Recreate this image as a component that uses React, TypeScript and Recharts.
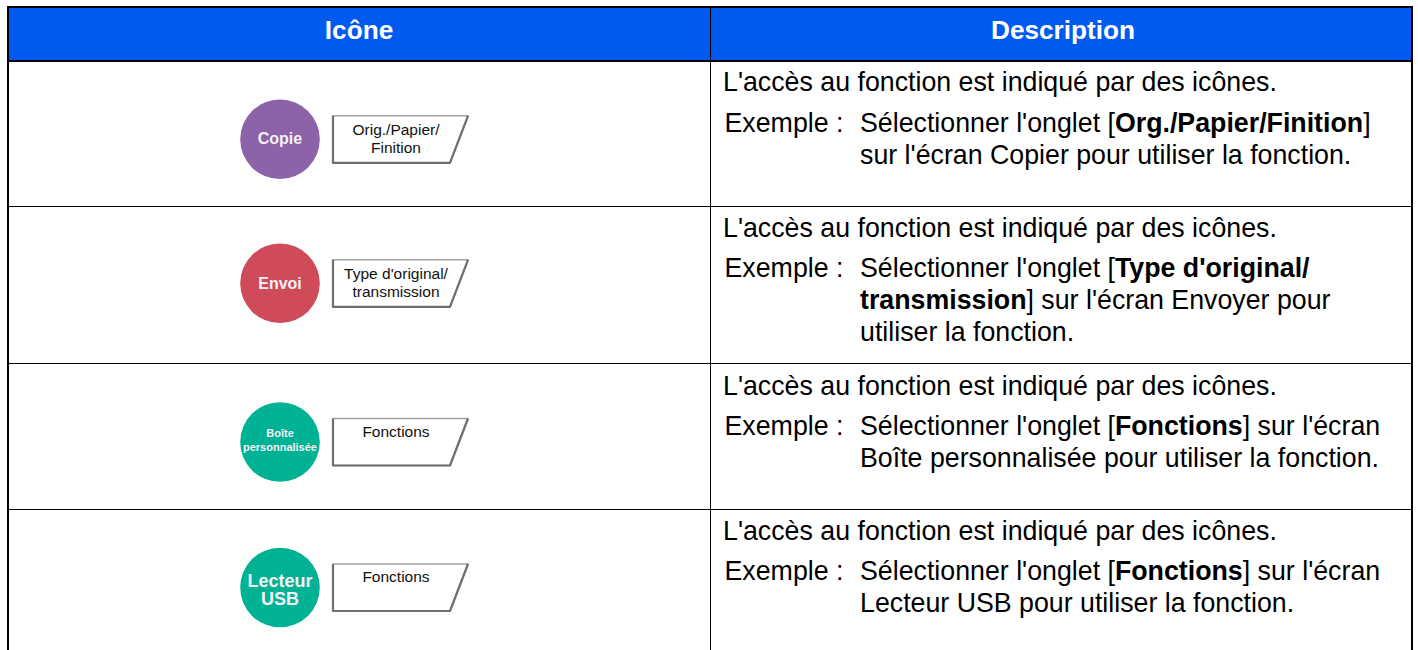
import React from "react";
import { ComposedChart, XAxis, YAxis, Scatter, ReferenceArea, ReferenceLine } from "recharts";

const WIDTH = 1418;
const HEIGHT = 650;
const FONT = "'Liberation Sans', Arial, sans-serif";

const headers = ["Icône", "Description"];
const rowRules = [206.5, 363.5, 509.5];
const circleColors = ["#8C62A8", "#CF4B5A", "#00B294", "#00B294"];
const circleLabels = [["Copie"], ["Envoi"], ["Boîte", "personnalisée"], ["Lecteur", "USB"]];
const circleFontSizes = [16, 16, 11, 18];
const circleShifts = [-1, 0, -2, 2];
const tabLabels = [["Orig./Papier/", "Finition"], ["Type d'original/", "transmission"], ["Fonctions"], ["Fonctions"]];
const iconCentres = [139.3, 283.3, 442, 587.5];
const firstLines = [82, 228, 386, 531];
const exampleLines = [123, 268, 426, 571];

const intro = "L'accès au fonction est indiqué par des icônes.";
const exampleLabel = "Exemple :";
const descriptions: [string, boolean][][][] = [
  [[["Sélectionner l'onglet [", false], ["Org./Papier/Finition", true], ["]", false]], [["sur l'écran Copier pour utiliser la fonction.", false]]],
  [[["Sélectionner l'onglet [", false], ["Type d'original/", true]], [["transmission", true], ["] sur l'écran Envoyer pour", false]], [["utiliser la fonction.", false]]],
  [[["Sélectionner l'onglet [", false], ["Fonctions", true], ["] sur l'écran", false]], [["Boîte personnalisée pour utiliser la fonction.", false]]],
  [[["Sélectionner l'onglet [", false], ["Fonctions", true], ["] sur l'écran", false]], [["Lecteur USB pour utiliser la fonction.", false]]],
];

const iconData = iconCentres.map((y, i) => ({
  x: 280,
  y,
  color: circleColors[i],
  circle: circleLabels[i],
  fontSize: circleFontSizes[i],
  shift: circleShifts[i],
  tab: tabLabels[i],
}));

const headerData = headers.map((label, i) => ({ x: i === 0 ? 359 : 1063, y: 30, label }));

const textData: { x: number; y: number; runs: [string, boolean][] }[] = [];
descriptions.forEach((lines, i) => {
  textData.push({ x: 723, y: firstLines[i], runs: [[intro, false]] });
  textData.push({ x: 724.5, y: exampleLines[i], runs: [[exampleLabel, false]] });
  lines.forEach((runs, j) => textData.push({ x: 860, y: exampleLines[i] + j * 32, runs }));
});

const IconShape = (props: any) => {
  const { cx, cy, payload } = props;
  const top = cy - 23.5;
  const bottom = cy + 23.5;
  const lines: string[] = payload.tab;
  const circleLines: string[] = payload.circle;
  const lh = payload.fontSize * (circleLines.length > 1 && payload.fontSize < 12 ? 1.25 : 0.97);
  const lineY = (i: number) => (lines.length > 1 ? top + 14 + i * 18 : top + 13);
  return (
    <g>
      <circle cx={cx} cy={cy} r={39.8} fill={payload.color} />
      {circleLines.map((t, i) => (
        <text key={i} x={cx} y={cy + payload.shift + (i - (circleLines.length - 1) / 2) * lh} dy="0.35em" textAnchor="middle"
          fontFamily={FONT} fontWeight="bold" fontSize={payload.fontSize} fill="#F4F0F6">{t}</text>
      ))}
      <path d={`M${cx + 53},${top} H${cx + 188} L${cx + 170},${bottom} H${cx + 53} Z`} fill="#fff" stroke="#A0A2A4" strokeWidth={1.6} strokeLinejoin="round" />
      <path d={`M${cx + 53},${top} V${bottom} H${cx + 170} L${cx + 188},${top}`} fill="none" stroke="#6D6F71" strokeWidth={2.2} strokeLinejoin="round" />
      {lines.map((t, i) => (
        <text key={i} x={cx + 116} y={lineY(i)} dy="0.35em" textAnchor="middle"
          fontFamily={FONT} fontSize={15.5} fill="#111">{t}</text>
      ))}
    </g>
  );
};

const HeaderShape = (props: any) => (
  <text x={props.cx} y={props.cy} dy="0.35em" textAnchor="middle" fontFamily={FONT} fontWeight="bold" fontSize={26.2} fill="#fff">
    {props.payload.label}
  </text>
);

const TextShape = (props: any) => (
  <text x={props.cx} y={props.cy} dy="0.35em" fontFamily={FONT} fontSize={26.75} fill="#000">
    {props.payload.runs.map((r: [string, boolean], i: number) => (
      <tspan key={i} fontWeight={r[1] ? "bold" : "normal"}>{r[0]}</tspan>
    ))}
  </text>
);

export default function App() {
  return (
    <div style={{ position: "absolute", left: 0, top: 0, width: WIDTH, height: HEIGHT, background: "#fff", overflow: "hidden" }}>
      <ComposedChart width={WIDTH} height={HEIGHT} margin={{ top: 0, right: 0, bottom: 0, left: 0 }} data={[]}>
        <XAxis type="number" dataKey="x" domain={[0, WIDTH]} hide allowDataOverflow />
        <YAxis type="number" dataKey="y" domain={[0, HEIGHT]} reversed hide allowDataOverflow />
        <ReferenceArea x1={8} x2={1412} y1={7} y2={61} fill="#005AF0" fillOpacity={1} stroke="none" />
        <ReferenceLine segment={[{ x: 7, y: 7 }, { x: 1413, y: 7 }]} stroke="#000" strokeWidth={2} />
        <ReferenceLine segment={[{ x: 8, y: 61 }, { x: 1412, y: 61 }]} stroke="#000" strokeWidth={2} />
        <ReferenceLine segment={[{ x: 8, y: 6 }, { x: 8, y: 650 }]} stroke="#000" strokeWidth={2} />
        <ReferenceLine segment={[{ x: 1412, y: 6 }, { x: 1412, y: 650 }]} stroke="#000" strokeWidth={2} />
        <ReferenceLine segment={[{ x: 710.5, y: 7 }, { x: 710.5, y: 650 }]} stroke="#000" strokeWidth={1} />
        {rowRules.map((y) => (
          <ReferenceLine key={y} segment={[{ x: 8, y }, { x: 1412, y }]} stroke="#000" strokeWidth={1} />
        ))}
        <Scatter data={headerData} dataKey="y" isAnimationActive={false} shape={HeaderShape} />
        <Scatter data={iconData} dataKey="y" isAnimationActive={false} shape={IconShape} />
        <Scatter data={textData} dataKey="y" isAnimationActive={false} shape={TextShape} />
      </ComposedChart>
    </div>
  );
}
